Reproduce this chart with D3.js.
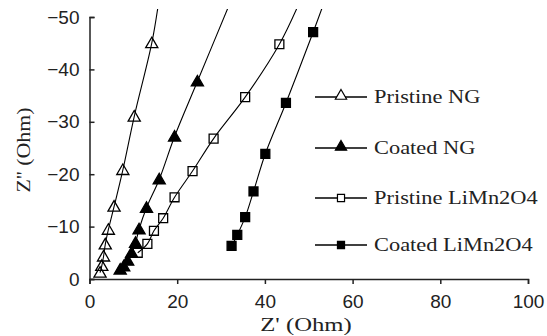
<!DOCTYPE html>
<html><head><meta charset="utf-8">
<script src="https://cdn.jsdelivr.net/npm/d3@7"></script>
<style>body{margin:0;background:#fff}svg{display:block}</style>
</head><body>
<script>
const seriesNames = ["Pristine NG","Coated NG","Pristine LiMn2O4","Coated LiMn2O4"];
const pristineNG = [[2.4,1.2],[2.8,2.5],[3.2,4.3],[3.6,6.6],[4.3,9.4],[5.6,13.8],[7.6,20.8],[10.2,31.0],[14.2,45.0],[15.8,53]];
const coatedNG = [[7.0,1.8],[7.8,2.4],[8.7,3.5],[9.6,5.0],[10.5,6.9],[11.3,9.5],[13.0,13.6],[15.9,19.0],[19.4,27.2],[24.6,37.7],[32.2,53]];
const pristineLMO = [[11.0,5.0],[13.2,6.7],[14.7,9.2],[16.8,11.6],[19.4,15.6],[23.5,20.6],[28.3,26.8],[35.5,34.7],[43.3,44.8],[48.0,53]];
const coatedLMO = [[32.4,6.3],[33.7,8.4],[35.5,11.8],[37.4,16.7],[40.1,23.9],[44.8,33.6],[51.0,47.1],[53.6,53]];
const visibleCount = [9,10,9,7];
const xTicks = [0,20,40,60,80,100];
const yTicks = [0,10,20,30,40,50];
const yTickLabels = ["0","-10","-20","-30","-40","-50"];

const W=547,H=336;
const svg=d3.select("body").append("svg").attr("width",W).attr("height",H);
const x=d3.scaleLinear().domain([0,100]).range([89.5,528]);
const y=d3.scaleLinear().domain([0,50]).range([279,17]);
const ink="#222";

svg.append("defs").append("clipPath").attr("id","clip")
  .append("rect").attr("x",89.5).attr("y",9).attr("width",440).attr("height",272);

// axes
const xAxis=d3.axisBottom(x).tickValues(xTicks).tickSize(5).tickSizeOuter(5).tickFormat(d=>d);
const gx=svg.append("g").attr("transform","translate(0,279)").call(xAxis);
gx.select(".domain").attr("stroke",ink).attr("stroke-width",1.5);
gx.selectAll(".tick line").attr("stroke",ink).attr("stroke-width",1.5);
gx.selectAll(".tick text").attr("font-family","Liberation Sans, Arial, sans-serif").attr("font-size",19).attr("fill",ink).attr("y",16).attr("dy","0.71em");

const yAxis=d3.axisLeft(y).tickValues(yTicks).tickSize(-5).tickSizeOuter(-5).tickFormat((d,i)=>yTickLabels[i]);
const gy=svg.append("g").attr("transform","translate(89.5,0)").call(yAxis);
gy.select(".domain").attr("stroke",ink).attr("stroke-width",1.5);
gy.selectAll(".tick line").attr("stroke",ink).attr("stroke-width",1.5);
gy.selectAll(".tick text").attr("font-family","Liberation Sans, Arial, sans-serif").attr("font-size",19).attr("fill",ink).attr("x",-10).text((d,i)=>yTickLabels[i].replace("-","\u2212"));

// titles
svg.append("text").attr("transform","translate(306,331) scale(1.3,1)").attr("text-anchor","middle")
  .attr("font-family","Liberation Serif, Times New Roman, serif").attr("font-size",19).attr("fill",ink).text("Z' (Ohm)");
svg.append("text").attr("transform","translate(30,150) rotate(-90) scale(1.15,1)").attr("text-anchor","middle")
  .attr("font-family","Liberation Serif, Times New Roman, serif").attr("font-size",19).attr("fill",ink).text("Z'' (Ohm)");

const allData=[pristineNG,coatedNG,pristineLMO,coatedLMO];
const kinds=[{shape:d3.symbolTriangle,fill:"#fff"},{shape:d3.symbolTriangle,fill:"#000"},{shape:d3.symbolSquare,fill:"#fff"},{shape:d3.symbolSquare,fill:"#000"}];
const line=d3.line().x(d=>x(d[0])).y(d=>y(d[1])).curve(d3.curveCatmullRom);
const plot=svg.append("g").attr("clip-path","url(#clip)");
allData.forEach((data,i)=>{
  const k=kinds[i];
  const tri=k.shape===d3.symbolTriangle;
  const sym=d3.symbol().type(k.shape).size(tri?64:80);
  plot.selectAll(null).data(data.slice(0,visibleCount[i])).enter().append("path")
    .attr("d",sym).attr("transform",d=>`translate(${x(d[0])},${y(d[1])+(tri?1:0)})`)
    .attr("fill",k.fill==="#fff"?"none":k.fill).attr("stroke","#000").attr("stroke-width",1.3);
});
allData.forEach((data,i)=>{
  plot.append("path").datum(data).attr("d",line).attr("fill","none").attr("stroke","#000").attr("stroke-width",1.1);
});

// legend
const legY=[97,148,198,245];
seriesNames.forEach((name,i)=>{
  const g=svg.append("g").attr("transform",`translate(0,${legY[i]})`);
  g.append("line").attr("x1",315).attr("x2",367).attr("y1",0).attr("y2",0).attr("stroke","#000").attr("stroke-width",1.3);
  const k=kinds[i];
  const tri=k.shape===d3.symbolTriangle;
  g.append("path").attr("d",d3.symbol().type(k.shape).size(tri?55:50)())
    .attr("transform",`translate(341,${tri?-1:0})`).attr("fill",k.fill).attr("stroke","#000").attr("stroke-width",1.2);
  g.append("text").attr("transform","translate(374,6) scale(1.18,1)").attr("font-family","Liberation Serif, Times New Roman, serif")
    .attr("font-size",19).attr("fill",ink).text(name);
});
</script>
</body></html>
